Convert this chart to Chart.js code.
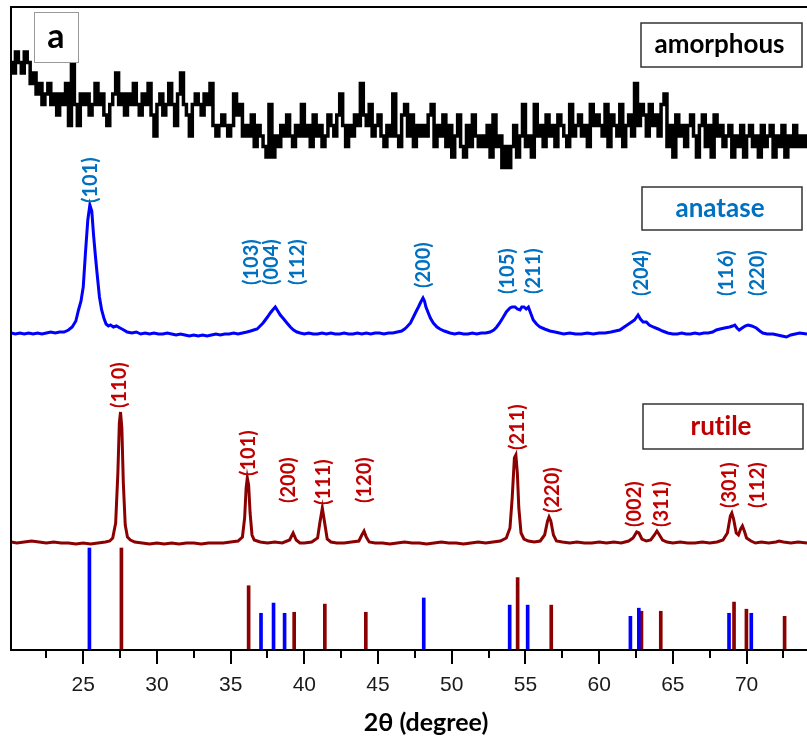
<!DOCTYPE html>
<html>
<head>
<meta charset="utf-8">
<script src="https://cdn.jsdelivr.net/npm/chart.js@4.4.1/dist/chart.umd.min.js"></script>
<style>
  html, body { margin: 0; padding: 0; background: #fff; }
  #wrap { width: 807px; height: 738px; }
</style>
</head>
<body>
<div id="wrap"><canvas id="c" width="807" height="738"></canvas></div>
<script>
// ---- XRD patterns of TiO2 films: amorphous, anatase, rutile + reference sticks ----

// amorphous film: raw counts on a 0.2 deg scan grid starting at 20.1 deg
const SCAN_START = 20.1;
const SCAN_STEP = 0.2;
const amorphousCounts = [
  10, 9, 11, 10, 9, 11, 10, 8, 9, 7,
  8, 6, 7, 8, 6, 7, 5, 7, 6, 8,
  4, 10, 6, 4, 7, 6, 7, 5, 6, 8,
  6, 7, 5, 4, 6, 7, 9, 6, 7, 5,
  7, 6, 8, 6, 5, 7, 6, 8, 5, 3,
  6, 7, 5, 6, 8, 6, 4, 7, 9, 6,
  5, 3, 6, 7, 6, 5, 7, 6, 8, 4,
  3, 4, 5, 4, 3, 4, 7, 5, 6, 3,
  4, 3, 5, 2, 4, 3, 2, 1, 6, 1,
  3, 2, 4, 3, 5, 3, 2, 4, 3, 6,
  3, 4, 2, 5, 3, 4, 2, 3, 5, 4,
  3, 5, 7, 4, 2, 4, 3, 5, 4, 8,
  5, 4, 6, 3, 4, 5, 3, 2, 4, 3,
  7, 3, 2, 5, 6, 3, 5, 2, 4, 3,
  4, 3, 5, 6, 2, 4, 3, 5, 2, 4,
  1, 3, 5, 2, 1, 4, 2, 5, 3, 2,
  3, 2, 4, 1, 5, 2, 3, 0, 2, 0,
  2, 4, 1, 3, 6, 2, 3, 1, 6, 3,
  4, 2, 5, 3, 4, 2, 5, 4, 3, 2,
  6, 3, 4, 5, 3, 4, 2, 6, 4, 5,
  4, 3, 6, 2, 5, 4, 3, 6, 2, 4,
  5, 3, 8, 4, 6, 5, 3, 6, 4, 5,
  3, 6, 7, 2, 4, 1, 5, 3, 4, 2,
  4, 5, 3, 1, 4, 5, 2, 4, 1, 5,
  3, 4, 2, 3, 4, 1, 3, 2, 4, 1,
  3, 4, 2, 3, 1, 4, 2, 3, 4, 1,
  3, 2, 4, 1, 3, 2, 4, 2, 3, 2, 3
];

// anatase film
const anataseTheta = [
  20.1, 20.4, 20.7, 21.0, 21.3, 21.6, 21.9, 22.2, 22.5, 22.8, 23.1, 23.4, 23.7, 24.0, 24.25, 24.5,
  24.68, 24.85, 25.0, 25.15, 25.31, 25.45, 25.58, 25.7, 25.82, 25.95, 26.1, 26.25, 26.4, 26.55,
  26.71, 26.85, 27.05, 27.25, 27.5, 27.75, 27.98, 28.3, 28.6, 28.9, 29.2, 29.5, 29.8, 30.1, 30.4,
  30.7, 31.0, 31.3, 31.6, 31.9, 32.2, 32.5, 32.8, 33.1, 33.4, 33.7, 34.0, 34.3, 34.6, 34.9, 35.2,
  35.5, 35.8, 36.1, 36.35, 36.56, 36.8, 37.0, 37.2, 37.35, 37.5, 37.69, 37.85, 38.03, 38.2, 38.37,
  38.6, 38.82, 39.05, 39.27, 39.5, 39.72, 40.0, 40.3, 40.6, 40.9, 41.2, 41.5, 41.8, 42.1, 42.4,
  42.7, 43.0, 43.3, 43.6, 43.9, 44.2, 44.5, 44.8, 45.1, 45.4, 45.7, 46.0, 46.3, 46.6, 46.8, 46.95,
  47.2, 47.4, 47.6, 47.74, 47.9, 48.05, 48.15, 48.25, 48.41, 48.55, 48.75, 49.0, 49.2, 49.5, 49.88,
  50.2, 50.5, 50.8, 51.1, 51.4, 51.7, 52.0, 52.3, 52.6, 52.85, 53.05, 53.25, 53.5, 53.7, 53.95,
  54.1, 54.3, 54.45, 54.63, 54.75, 54.9, 55.05, 55.2, 55.35, 55.53, 55.75, 55.98, 56.3, 56.66, 57.0,
  57.3, 57.6, 58.0, 58.4, 58.8, 59.2, 59.6, 60.0, 60.4, 60.8, 61.1, 61.4, 61.7, 61.9, 62.1, 62.4,
  62.64, 62.8, 62.98, 63.2, 63.4, 63.66, 64.0, 64.3, 64.65, 65.0, 65.3, 65.6, 65.9, 66.2, 66.5,
  66.8, 67.1, 67.4, 67.7, 67.95, 68.2, 68.5, 68.85, 69.05, 69.2, 69.35, 69.5, 69.7, 69.9, 70.1,
  70.35, 70.66, 70.9, 71.1, 71.4, 71.8, 72.1, 72.4, 72.7, 73.0, 73.3, 73.6, 74.1
];
const anataseI = [
  2, 1, 2, 1, 2, 1, 2, 1, 2, 3, 2, 3, 3, 5, 8, 14,
  25, 34, 48, 82, 115, 130, 124, 100, 80, 60, 38, 25, 17, 11,
  9, 10, 8, 9, 7, 5, 3, 2, 3, 1, 2, 1, 2, 1, 1,
  2, 1, 0, 1, 0, -1, 0, -1, 0, -1, 0, 1, 0, 1, 1, 2,
  1, 2, 3, 4, 5, 6, 9, 12, 15, 18, 22, 25, 28, 24, 20,
  16, 12, 8, 5, 3, 2, 1, 2, 1, 1, 2, 1, 2, 1, 1,
  2, 1, 1, 2, 1, 2, 1, 2, 2, 1, 2, 2, 3, 4, 6, 8,
  12, 18, 24, 28, 33, 37, 34, 28, 22, 17, 12, 8, 6, 4, 2,
  1, 2, 1, 1, 2, 1, 2, 2, 3, 5, 8, 12, 18, 23, 27,
  28, 28, 26, 25, 28, 28, 26, 28, 22, 15, 11, 8, 6, 4, 3,
  2, 1, 2, 1, 1, 2, 1, 2, 2, 3, 4, 5, 8, 10, 12, 15,
  20, 16, 13, 13, 10, 8, 6, 4, 2, 1, 1, 2, 1, 1, 2,
  1, 2, 2, 3, 5, 6, 7, 8, 9, 10, 7, 5, 7, 9, 10,
  9, 7, 4, 2, 1, 1, 0, -1, -2, 0, 1, 2, 1
];

// rutile film
const rutileTheta = [
  20.1, 20.5, 21.0, 21.5, 22.0, 22.5, 23.0, 23.5, 24.0, 24.5, 25.0, 25.5, 26.0, 26.5, 26.8, 27.0,
  27.2, 27.35, 27.45, 27.53, 27.62, 27.72, 27.85, 28.0, 28.2, 28.5, 29.0, 29.5, 30.0, 30.5, 31.0,
  31.5, 32.0, 32.5, 33.0, 33.5, 34.0, 34.5, 35.0, 35.5, 35.8, 35.95, 36.05, 36.13, 36.22, 36.32,
  36.45, 36.6, 37.0, 37.5, 38.0, 38.5, 39.0, 39.24, 39.45, 39.7, 40.0, 40.5, 40.9, 41.05, 41.22,
  41.38, 41.55, 41.8, 42.2, 42.7, 43.2, 43.7, 43.9, 44.05, 44.2, 44.4, 44.8, 45.3, 45.8, 46.3,
  46.8, 47.3, 47.8, 48.3, 48.8, 49.3, 49.8, 50.3, 50.8, 51.3, 51.8, 52.3, 52.8, 53.3, 53.7, 53.95,
  54.1, 54.25, 54.35, 54.45, 54.55, 54.7, 54.9, 55.2, 55.6, 56.0, 56.3, 56.5, 56.6, 56.72, 56.9,
  57.1, 57.5, 58.0, 58.5, 59.0, 59.5, 60.0, 60.5, 61.0, 61.5, 62.0, 62.3, 62.55, 62.7, 62.9, 63.2,
  63.5, 63.75, 63.92, 64.05, 64.3, 64.6, 65.0, 65.5, 66.0, 66.5, 67.0, 67.5, 68.0, 68.4, 68.7,
  68.9, 69.0, 69.12, 69.3, 69.45, 69.6, 69.72, 69.85, 70.0, 70.3, 70.6, 71.0, 71.5, 72.0, 72.2,
  72.5, 73.0, 73.5, 74.1
];
const rutileI = [
  1, 0, 1, 2, 1, 0, 1, 0, 0, -1, 0, -1, 0, 1, 2, 5,
  20, 70, 120, 131, 115, 60, 18, 6, 3, 1, 0, -1, 0, -1, 0,
  -1, 0, 0, -1, 0, 0, 0, 1, 2, 6, 25, 55, 65, 58, 30,
  8, 3, 1, 0, 1, 0, 3, 10, 3, 0, 0, 1, 5, 20, 35,
  20, 4, 1, 0, 0, 1, 2, 8, 12, 6, 1, 0, 0, -1, 0,
  1, 0, 0, -1, 0, 1, 0, 0, -1, 0, 1, 0, 1, 2, 5, 15,
  45, 85, 88, 70, 35, 10, 4, 2, 1, 2, 8, 22, 26, 22, 8,
  2, 1, 0, 1, 0, 0, 1, 0, 1, 0, 2, 5, 11, 10, 4, 2,
  3, 8, 12, 9, 3, 1, 0, 1, 0, 0, 1, 0, 1, 3, 10,
  27, 30, 24, 10, 8, 14, 17, 12, 5, 2, 0, 1, 0, 1, 2,
  1, 0, 1, 0
];

// reference line patterns (relative intensity, %)
const anataseRefTheta = [25.42, 37.06, 37.91, 38.66, 48.1, 53.93, 55.15, 62.12, 62.69, 68.81, 70.32];
const anataseRefI = [100, 36, 46, 36, 51, 44, 44, 33, 41, 36, 36];
const rutileRefTheta = [27.59, 36.22, 39.31, 41.39, 44.17, 54.47, 56.75, 62.87, 64.18, 69.15, 69.99, 72.58];
const rutileRefI = [100, 63, 37, 45, 37, 71, 44, 38, 38, 47, 40, 33];

// Miller index labels: [text, 2theta position, label foot height]
const anataseLabels = [
  ['(101)', 25.4, 447], ['(103)', 36.33, 365], ['(004)', 37.69, 365], ['(112)', 39.45, 365],
  ['(200)', 48.05, 362], ['(105)', 53.75, 356], ['(211)', 55.5, 356], ['(204)', 62.82, 354],
  ['(116)', 68.58, 354], ['(220)', 70.68, 354]
];
const rutileLabels = [
  ['(110)', 27.4, 242], ['(101)', 36.13, 174], ['(200)', 38.84, 147], ['(111)', 41.21, 145],
  ['(120)', 43.99, 147], ['(211)', 54.42, 200], ['(220)', 56.79, 137], ['(002)', 62.35, 123],
  ['(311)', 64.18, 123], ['(301)', 68.79, 142], ['(112)', 70.68, 142]
];

// x-axis ticks
const majorTicks = [25, 30, 35, 40, 45, 50, 55, 60, 65, 70];
const minorTicks = [22.5, 27.5, 32.5, 37.5, 42.5, 47.5, 52.5, 57.5, 62.5, 67.5, 72.5];

// vertical stacking of the patterns
const AMORPH_OFFSET = 482.5, AMORPH_SCALE = 10.5;
const ANATASE_OFFSET = 315;
const RUTILE_OFFSET = 107;
const REF_SCALE = 1.02;

const BLUE = '#0000FF', DARKRED = '#8B0000';
const LABEL_BLUE = '#0070C0', LABEL_RED = '#C00000';

const amorphousData = amorphousCounts.map((c, i) => ({ x: SCAN_START + i * SCAN_STEP, y: AMORPH_OFFSET + c * AMORPH_SCALE }));
const anataseData = anataseTheta.map((t, i) => ({ x: t, y: ANATASE_OFFSET + anataseI[i] }));
const rutileData = rutileTheta.map((t, i) => ({ x: t, y: RUTILE_OFFSET + rutileI[i] }));
const anataseRef = anataseRefTheta.map((t, i) => ({ x: t, y: anataseRefI[i] * REF_SCALE }));
const rutileRef = rutileRefTheta.map((t, i) => ({ x: t, y: rutileRefI[i] * REF_SCALE }));

const decorations = {
  id: 'decorations',
  afterDatasetsDraw(chart) {
    const ctx = chart.ctx;
    const { left, right, top, bottom } = chart.chartArea;
    const xs = chart.scales.x, ys = chart.scales.y;
    ctx.save();

    // frame
    ctx.strokeStyle = '#000';
    ctx.lineWidth = 2;
    ctx.beginPath();
    ctx.moveTo(right + 2, top);
    ctx.lineTo(left, top);
    ctx.lineTo(left, bottom);
    ctx.lineTo(right + 2, bottom);
    ctx.stroke();

    // tick marks and tick labels
    ctx.beginPath();
    majorTicks.forEach(v => {
      const px = Math.round(xs.getPixelForValue(v));
      ctx.moveTo(px, bottom); ctx.lineTo(px, bottom + 14);
    });
    minorTicks.forEach(v => {
      const px = Math.round(xs.getPixelForValue(v));
      ctx.moveTo(px, bottom); ctx.lineTo(px, bottom + 8);
    });
    ctx.stroke();
    ctx.fillStyle = '#1a1a1a';
    ctx.font = '21px "Liberation Sans", Arial, sans-serif';
    ctx.textAlign = 'center';
    ctx.textBaseline = 'middle';
    majorTicks.forEach(v => ctx.fillText(String(v), xs.getPixelForValue(v), bottom + 35));

    // Miller index labels
    const drawLabels = (list, color) => {
      ctx.fillStyle = color;
      ctx.font = 'bold 20px Lato, "Open Sans", sans-serif';
      ctx.textAlign = 'left';
      ctx.textBaseline = 'middle';
      list.forEach(([txt, t, h]) => {
        ctx.save();
        ctx.translate(xs.getPixelForValue(t), ys.getPixelForValue(h));
        ctx.rotate(-Math.PI / 2);
        ctx.fillText(txt, 0, 1);
        ctx.restore();
      });
    };
    drawLabels(anataseLabels, LABEL_BLUE);
    drawLabels(rutileLabels, LABEL_RED);

    // phase name boxes
    const box = (x0, y0, w, h, txt, color) => {
      ctx.fillStyle = '#fff';
      ctx.fillRect(x0, y0, w, h);
      ctx.strokeStyle = '#333';
      ctx.lineWidth = 1.5;
      ctx.strokeRect(x0, y0, w, h);
      ctx.fillStyle = color;
      ctx.font = 'bold 26px Lato, "Open Sans", sans-serif';
      ctx.textAlign = 'center';
      ctx.textBaseline = 'middle';
      ctx.fillText(txt, x0 + w / 2 - 2, y0 + h / 2);
    };
    box(641, 23, 161, 44, 'amorphous', '#000');
    box(642, 187, 160, 43, 'anatase', LABEL_BLUE);
    box(643, 404, 160, 45, 'rut\u200Cile', LABEL_RED);

    // panel letter
    ctx.fillStyle = '#fff';
    ctx.fillRect(34, 12, 44, 50);
    ctx.strokeStyle = '#999';
    ctx.lineWidth = 1;
    ctx.strokeRect(34.5, 12.5, 44, 50);
    ctx.fillStyle = '#000';
    ctx.font = 'bold 34px Lato, "Open Sans", sans-serif';
    ctx.textAlign = 'center';
    ctx.textBaseline = 'middle';
    ctx.fillText('a', 56, 37);

    // axis title
    ctx.font = 'bold 25px Lato, "Open Sans", sans-serif';
    ctx.fillStyle = '#000';
    ctx.fillText('2\u03B8 (degree)', 426, 723);

    ctx.restore();
  }
};

new Chart(document.getElementById('c'), {
  type: 'line',
  data: {
    datasets: [
      { label: 'amorphous', data: amorphousData, borderColor: '#000', borderWidth: 3.5, stepped: 'middle', pointRadius: 0 },
      { label: 'anatase', data: anataseData, borderColor: BLUE, borderWidth: 3, pointRadius: 0, tension: 0 },
      { label: 'rutile', data: rutileData, borderColor: DARKRED, borderWidth: 3, pointRadius: 0, tension: 0 },
      { type: 'bar', label: 'anatase ref', data: anataseRef, backgroundColor: BLUE, barThickness: 3, grouped: false, borderWidth: 0 },
      { type: 'bar', label: 'rutile ref', data: rutileRef, backgroundColor: DARKRED, barThickness: 3, grouped: false, borderWidth: 0 }
    ]
  },
  options: {
    responsive: false,
    animation: false,
    devicePixelRatio: 1,
    layout: { padding: { left: 11, right: 0, top: 7, bottom: 0 } },
    plugins: { legend: { display: false }, tooltip: { enabled: false } },
    scales: {
      x: {
        type: 'linear',
        min: 20.1,
        max: 74.1,
        offset: false,
        grid: { display: false },
        border: { display: false },
        afterBuildTicks: (scale) => { scale.ticks = majorTicks.map(v => ({ value: v })); },
        afterFit: (scale) => { scale.height = 88; },
        ticks: { display: false }
      },
      y: { type: 'linear', display: false, min: 0, max: 643 }
    }
  },
  plugins: [decorations]
});
</script>
</body>
</html>
